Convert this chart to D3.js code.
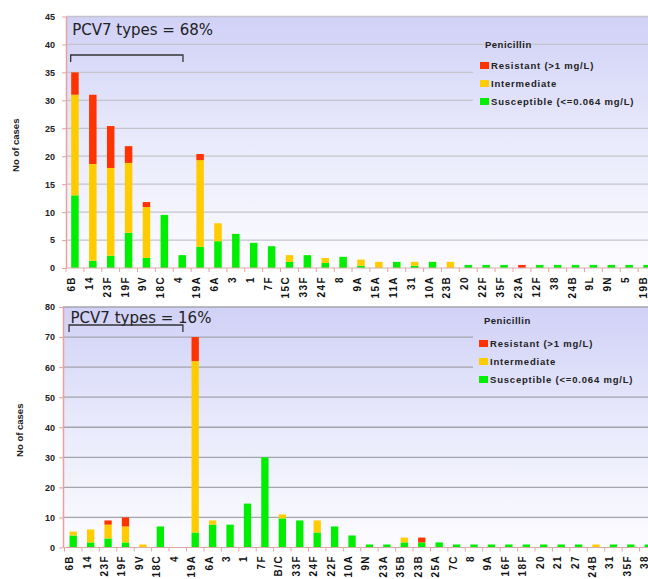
<!DOCTYPE html>
<html>
<head>
<meta charset="utf-8">
<script src="https://cdnjs.cloudflare.com/ajax/libs/d3/7.8.5/d3.min.js"></script>
<style>
    body { margin: 0; background: #fff; }
    svg { display: block; }
</style>
</head>
<body>
<div id="chart"></div>
<script>
// upper panel: serotypes and number of cases by penicillin category
var topSerotypes = ["6B", "14", "23F", "19F", "9V", "18C", "4", "19A", "6A", "3", "1", "7F", "15C", "33F", "24F", "8",
    "9A", "15A", "11A", "31", "10A", "23B", "20", "22F", "35F", "23A", "12F", "38", "24B", "9L", "9N", "5", "19B"];
var topSusceptible = [13, 1.3, 2.2, 6.3, 1.8, 9.5, 2.3, 3.8, 4.8, 6.1, 4.5, 3.9, 1.1, 2.3, 0.9, 2.0,
    0.4, 0, 1.1, 0.4, 1.1, 0, 0.55, 0.55, 0.55, 0, 0.55, 0.55, 0.55, 0.55, 0.55, 0.55, 0.55];
var topIntermediate = [18, 17.3, 15.7, 12.5, 9.1, 0, 0, 15.5, 3.2, 0, 0, 0, 1.2, 0, 0.9, 0,
    1.1, 1.1, 0, 0.7, 0, 1.1, 0, 0, 0, 0, 0, 0, 0, 0, 0, 0, 0];
var topResistant = [4, 12.4, 7.5, 3.0, 0.9, 0, 0, 1.1, 0, 0, 0, 0, 0, 0, 0, 0,
    0, 0, 0, 0, 0, 0, 0, 0, 0, 0.55, 0, 0, 0, 0, 0, 0, 0];

// lower panel
var bottomSerotypes = ["6B", "14", "23F", "19F", "9V", "18C", "4", "19A", "6A", "3", "1", "7F", "B/C", "33F", "24F", "22F", "10A",
    "9N", "23A", "35B", "23B", "25A", "7C", "8", "9A", "16F", "18F", "20", "21", "27", "24B", "31", "35F", "38"];
var bottomSusceptible = [4, 1.7, 3, 1.7, 0, 7, 0, 5, 7.6, 7.6, 14.6, 30, 9.7, 9, 5, 7, 4,
    1, 1, 1.7, 1.7, 1.7, 1, 1, 1, 1, 1, 1, 1, 1, 0, 1, 1, 1];
var bottomIntermediate = [1.3, 4.3, 4.6, 5.3, 1, 0, 0, 57, 1.4, 0, 0, 0, 1.3, 0, 4, 0, 0,
    0, 0, 1.6, 0, 0, 0, 0, 0, 0, 0, 0, 0, 0, 1, 0, 0, 0];
var bottomResistant = [0, 0, 1.4, 3, 0, 0, 0, 8, 0, 0, 0, 0, 0, 0, 0, 0, 0,
    0, 0, 0, 1.6, 0, 0, 0, 0, 0, 0, 0, 0, 0, 0, 0, 0, 0];

var topTicks = [0, 5, 10, 15, 20, 25, 30, 35, 40, 45];
var bottomTicks = [0, 10, 20, 30, 40, 50, 60, 70, 80];

var pcv7Types = ["6B", "14", "23F", "19F", "9V", "18C", "4"];
var seriesKeys = ["susceptible", "intermediate", "resistant"];
var legendKeys = ["resistant", "intermediate", "susceptible"];
var legendLabels = ["Resistant (>1 mg/L)", "Intermediate", "Susceptible (<=0.064 mg/L)"];
var colors = { resistant: "#ff3300", intermediate: "#ffcc00", susceptible: "#00ee00" };

var W = 648, H = 579;
var boldFont = "'Liberation Sans', Arial, sans-serif";

var svg = d3.select("#chart")
    .append("svg")
    .attr("width", W)
    .attr("height", H);
var defs = svg.append("defs");

function drawPanel(cfg) {
    var rows = cfg.cats.map(function(c, i) {
        return { serotype: c, susceptible: cfg.s[i], intermediate: cfg.i[i], resistant: cfg.r[i] };
    });
    var stacked = d3.stack().keys(seriesKeys)(rows);

    var x = d3.scaleBand()
        .domain(cfg.cats)
        .range(cfg.xRange)
        .paddingInner(0.58)
        .paddingOuter(0.29);
    var yMax = cfg.ticks[cfg.ticks.length - 1];
    var y = d3.scaleLinear()
        .domain([0, yMax])
        .range(cfg.yRange);

    var g = svg.append("g");

    // lavender -> white background, same gradient reused under the legend
    var grad = defs.append("linearGradient")
        .attr("id", "bg-" + cfg.id)
        .attr("gradientUnits", "userSpaceOnUse")
        .attr("x1", 0).attr("x2", 0)
        .attr("y1", y(yMax)).attr("y2", y(0));
    grad.append("stop").attr("offset", "0%").attr("stop-color", "#d0d1f6");
    grad.append("stop").attr("offset", "45%").attr("stop-color", "#e7e8fb");
    grad.append("stop").attr("offset", "100%").attr("stop-color", "#fcfcff");

    g.append("rect")
        .attr("x", cfg.axisX)
        .attr("y", y(yMax))
        .attr("width", W - cfg.axisX)
        .attr("height", y(0) - y(yMax))
        .style("fill", "url(#bg-" + cfg.id + ")");

    g.selectAll(".grid")
        .data(cfg.ticks.filter(function(d) { return d > 0; }))
        .enter()
        .append("line")
        .attr("class", "grid")
        .attr("x1", cfg.axisX).attr("x2", W)
        .attr("y1", function(d) { return y(d); })
        .attr("y2", function(d) { return y(d); })
        .style("stroke", cfg.gridColor)
        .style("stroke-width", 1.3);

    // legend box hides the gridlines behind it
    g.append("rect")
        .attr("x", cfg.legendBox[0])
        .attr("y", cfg.legendBox[1])
        .attr("width", W - cfg.legendBox[0])
        .attr("height", cfg.legendBox[2])
        .style("fill", "url(#bg-" + cfg.id + ")");

    // stacked bars
    g.selectAll(".series")
        .data(stacked)
        .enter()
        .append("g")
        .attr("class", "series")
        .style("fill", function(d) { return colors[d.key]; })
        .selectAll("rect")
        .data(function(d) { return d; })
        .enter()
        .append("rect")
        .attr("x", function(d) { return x(d.data.serotype); })
        .attr("y", function(d) { return y(d[1]); })
        .attr("width", x.bandwidth())
        .attr("height", function(d) { return y(d[0]) - y(d[1]); });

    // zero line
    g.append("line")
        .attr("x1", cfg.axisX).attr("x2", W)
        .attr("y1", y(0)).attr("y2", y(0))
        .style("stroke", "#d8aaaa")
        .style("stroke-width", 1.2);

    // y axis
    var yAxis = g.append("g")
        .attr("transform", "translate(" + cfg.axisX + ",0)")
        .call(d3.axisLeft(y).tickValues(cfg.ticks).tickSize(4).tickSizeOuter(0).tickPadding(cfg.tickPad));
    yAxis.select(".domain").style("stroke", "#e8a0a0").style("stroke-width", 1.5);
    yAxis.selectAll(".tick line").style("stroke", "#e8a0a0");
    yAxis.selectAll("text")
        .style("font-family", boldFont)
        .style("font-weight", "bold")
        .style("font-size", "9px")
        .style("fill", "#222");

    // x axis: rotated serotype labels and small ticks between bands
    var xAxis = g.append("g")
        .attr("transform", "translate(0," + y(0) + ")")
        .call(d3.axisBottom(x).tickSize(0));
    xAxis.select(".domain").remove();
    xAxis.selectAll("text")
        .attr("transform", "rotate(-90)")
        .attr("x", -cfg.labelGap)
        .attr("y", 0)
        .attr("dy", 0)
        .style("text-anchor", "end")
        .style("font-family", boldFont)
        .style("font-weight", "bold")
        .style("font-size", "10px")
        .style("letter-spacing", "1.4px")
        .style("fill", "#111");

    var gap = (x.step() - x.bandwidth()) / 2;
    xAxis.selectAll(".sep")
        .data(cfg.cats)
        .enter()
        .append("line")
        .attr("class", "sep")
        .attr("x1", function(d) { return x(d) - gap; })
        .attr("x2", function(d) { return x(d) - gap; })
        .attr("y1", 0).attr("y2", 4)
        .style("stroke", "#e8a0a0");

    // y title
    g.append("text")
        .attr("transform", "translate(" + cfg.yTitleX + "," + ((y(0) + y(yMax)) / 2 + 3) + ") rotate(-90)")
        .attr("text-anchor", "middle")
        .attr("dy", "0.35em")
        .style("font-family", boldFont)
        .style("font-weight", "bold")
        .style("font-size", "9.5px")
        .style("fill", "#222")
        .text("No of cases");

    // PCV7 annotation
    g.append("text")
        .attr("x", x(pcv7Types[0]) + 1)
        .attr("y", cfg.titleY)
        .attr("dy", "0.35em")
        .style("font-family", "'DejaVu Sans', Verdana, sans-serif")
        .style("font-size", "15px")
        .style("fill", "#222")
        .text(cfg.title);

    var bx1 = x(pcv7Types[0]) - 0.5;
    var bx2 = x(pcv7Types[pcv7Types.length - 1]) + x.bandwidth() * cfg.bracketEnd;
    g.append("path")
        .attr("d", "M" + bx1 + "," + (cfg.bracketY + 7) + "V" + cfg.bracketY + "H" + bx2 + "V" + (cfg.bracketY + 7))
        .style("fill", "none")
        .style("stroke", "#333")
        .style("stroke-width", 1.3);

    // legend
    var lg = g.append("g").attr("transform", "translate(" + cfg.legendX + "," + cfg.legendY + ")");
    lg.append("text")
        .attr("x", 5)
        .attr("y", 0)
        .attr("dy", "0.35em")
        .style("font-family", boldFont)
        .style("font-weight", "bold")
        .style("font-size", "9.5px")
        .style("letter-spacing", "0.5px")
        .style("fill", "#222")
        .text("Penicillin");
    var items = lg.selectAll(".item")
        .data(legendKeys)
        .enter()
        .append("g")
        .attr("class", "item")
        .attr("transform", function(d, i) { return "translate(0," + (cfg.legendRow * (i + 1) + cfg.legendFirst) + ")"; });
    items.append("rect")
        .attr("x", 0).attr("y", -3.5)
        .attr("width", 9).attr("height", 7)
        .style("fill", function(d) { return colors[d]; });
    items.append("text")
        .attr("x", 11)
        .attr("dy", "0.35em")
        .style("font-family", boldFont)
        .style("font-weight", "bold")
        .style("font-size", "9.5px")
        .style("letter-spacing", "0.8px")
        .style("fill", "#222")
        .text(function(d, i) { return legendLabels[i]; });
}

drawPanel({
    id: "top",
    cats: topSerotypes, s: topSusceptible, i: topIntermediate, r: topResistant,
    ticks: topTicks, gridColor: "#c4c4ca",
    xRange: [66, 656], yRange: [268, 16.5],
    axisX: 66, tickPad: 7, labelGap: 8, yTitleX: 16,
    title: "PCV7 types = 68%", titleY: 30, bracketY: 55, bracketEnd: 0.6,
    legendBox: [473, 50, 68],
    legendX: 480, legendY: 45, legendRow: 18, legendFirst: 2.5
});

drawPanel({
    id: "bottom",
    cats: bottomSerotypes, s: bottomSusceptible, i: bottomIntermediate, r: bottomResistant,
    ticks: bottomTicks, gridColor: "#a4a4ac",
    xRange: [64.5, 657], yRange: [547.5, 307],
    axisX: 63, tickPad: 4, labelGap: 7.5, yTitleX: 20,
    title: "PCV7 types = 16%", titleY: 318, bracketY: 325, bracketEnd: 1.2,
    legendBox: [473, 326, 64],
    legendX: 479, legendY: 321, legendRow: 18, legendFirst: 4.5
});
</script>
</body>
</html>
